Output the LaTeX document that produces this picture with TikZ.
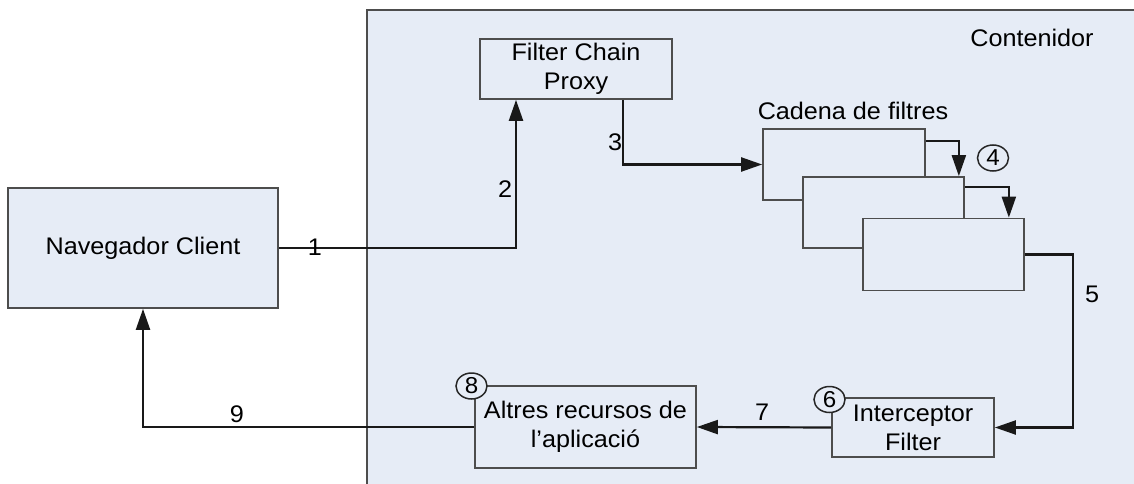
\documentclass[tikz,border=0pt]{standalone}
\usepackage{fontspec}
\setmainfont{Liberation Sans}[FakeStretch=1.05]
\usetikzlibrary{arrows.meta,shapes.geometric}
\definecolor{bgblue}{HTML}{E6ECF6}
\definecolor{edgegray}{HTML}{4D4D4D}
\begin{document}
\begin{tikzpicture}[x=1pt,y=-1pt,
  box/.style={draw=edgegray,line width=1.7pt,fill=bgblue,rectangle,inner sep=0pt,
              font=\fontsize{24}{29}\selectfont,align=center},
  arr/.style={draw=black!90,line width=2.2pt,-{Triangle[length=21pt,width=14pt]}},
  lbl/.style={font=\fontsize{24}{29}\selectfont,inner sep=0pt,anchor=base},
  num/.style={ellipse,draw=black!85,line width=1.5pt,fill=bgblue,minimum width=31pt,
              minimum height=26pt,inner sep=0pt,font=\fontsize{23}{23}\selectfont}]
\useasboundingbox (0,0) rectangle (1134,484);
\fill[white] (0,0) rectangle (1134,484);
% container
\fill[bgblue] (367,10) rectangle (1134,484);
\draw[edgegray,line width=2pt] (367,484) -- (367,10) -- (1134,10);
\node[lbl] (cont) at (1032,47) {Contenidor};
% nodes
\node[box,minimum width=270,minimum height=120] (nav) at (143,248) {Navegador Client};
\node[box,minimum width=192,minimum height=60] (fcp) at (576,69) {Filter Chain\\Proxy};
\node[lbl] (cad) at (853,120) {Cadena de filtres};
\node[box,minimum width=162,minimum height=71] (b1) at (844,164.5) {};
\node[box,minimum width=161,minimum height=71] (b2) at (883.5,212.5) {};
\node[box,minimum width=161,minimum height=72] (b3) at (943.5,254.5) {};
\node[box,minimum width=162,minimum height=59] (inter) at (913,427.5) {Interceptor\\Filter};
\node[box,minimum width=221,minimum height=82] (alt) at (585.5,427) {Altres recursos de\\l’aplicació};
% connectors
\draw[arr] (nav.east) -| ([xshift=-60pt]fcp.south);
\draw[arr] ([xshift=47pt]fcp.south) |- (b1.west);
\draw[arr] ([yshift=-13pt]b1.north east) -| ([xshift=-6pt]b2.north east);
\draw[arr] ([yshift=-11pt]b2.north east) -| ([xshift=-16pt]b3.north east);
\coordinate (c5) at (1073,254.5);
\draw[arr] (b3.east) -- (c5) |- (inter.east);
\draw[arr] (inter.west) -- (alt.east);
\draw[arr] (alt.west) -| (nav.south);
% step numbers
\node[lbl] (l1) at (315,255) {1};
\node[lbl] (l2) at (505,197) {2};
\node[lbl] (l3) at (615,150) {3};
\node[lbl] (l5) at (1092,302) {5};
\node[lbl] (l7) at (762,420) {7};
\node[lbl] (l9) at (237,422) {9};
\node[num] (n4) at (993,158) {4};
\node[num] (n6) at (829.5,399.5) {6};
\node[num] (n8) at (471.5,386) {8};
\end{tikzpicture}
\end{document}
